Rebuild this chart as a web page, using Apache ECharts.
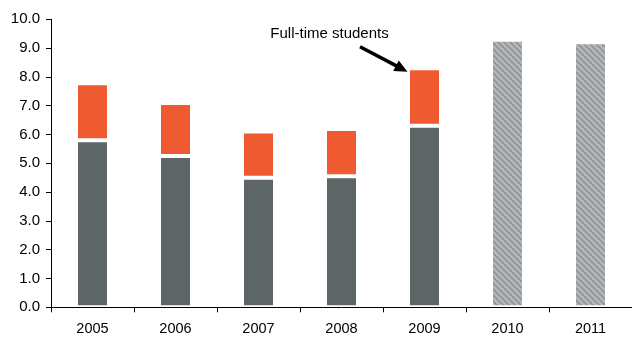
<!DOCTYPE html>
<html>
<head>
<meta charset="utf-8">
<script src="https://cdn.jsdelivr.net/npm/echarts@6/dist/echarts.min.js"></script>
<style>
  html, body { margin: 0; padding: 0; background: #ffffff; }
  #chart { width: 632px; height: 338px; }
</style>
</head>
<body>
<div id="chart"></div>
<script>
// Years on the category axis
const years = ['2005', '2006', '2007', '2008', '2009', '2010', '2011'];
// Employed (excluding full-time students), millions
const employed = [5.8, 5.25, 4.5, 4.55, 6.3, '-', '-'];
// Full-time students, millions
const students = [1.98, 1.84, 1.6, 1.64, 2.0, '-', '-'];
// Projected totals, millions
const projected = ['-', '-', '-', '-', '-', 9.29, 9.2];
// Value axis tick labels run 0.0 .. 10.0
const yTicks = { min: 0, max: 10, step: 1 };

// Diagonal hatch fill for projected bars
function hatchPattern() {
  const c = document.createElement('canvas');
  c.width = 6; c.height = 6;
  const g = c.getContext('2d');
  g.fillStyle = '#b2b6b8';
  g.fillRect(0, 0, 6, 6);
  g.strokeStyle = '#8a8f91';
  g.lineWidth = 1.4;
  g.beginPath();
  g.moveTo(-1, -1); g.lineTo(7, 7);
  g.moveTo(-4, 2); g.lineTo(4, 10);
  g.moveTo(2, -4); g.lineTo(10, 4);
  g.stroke();
  return { image: c, repeat: 'repeat' };
}

const font = 'Liberation Sans, Arial, sans-serif';
const barStyle = (color) => ({ color: color, borderColor: '#ffffff', borderWidth: 2 });

const chart = echarts.init(document.getElementById('chart'), null, { renderer: 'canvas' });
chart.setOption({
  animation: false,
  backgroundColor: '#ffffff',
  grid: { left: 51, width: 586, top: 19.3, bottom: 30.7, containLabel: false },
  xAxis: {
    type: 'category',
    data: years,
    z: 5,
    axisLine: { lineStyle: { color: '#000000', width: 1 } },
    axisTick: { show: true, length: 5, alignWithLabel: false, lineStyle: { color: '#000000' } },
    axisLabel: { color: '#000000', fontFamily: font, fontSize: 14.5, margin: 14 }
  },
  yAxis: {
    type: 'value',
    min: yTicks.min,
    max: yTicks.max,
    interval: yTicks.step,
    splitLine: { show: false },
    axisLine: { show: true, lineStyle: { color: '#000000', width: 1 } },
    axisTick: { show: true, length: 5, lineStyle: { color: '#000000' } },
    axisLabel: {
      color: '#000000', fontFamily: font, fontSize: 15, margin: 11,
      formatter: (v) => v.toFixed(1)
    }
  },
  series: [
    { name: 'Employed', type: 'bar', stack: 'total', barWidth: 33, data: employed, itemStyle: barStyle('#5e6567') },
    { name: 'Full-time students', type: 'bar', stack: 'total', barWidth: 33, data: students, itemStyle: barStyle('#f05a31') },
    { name: 'Projected', type: 'bar', stack: 'total', barWidth: 33, data: projected, itemStyle: barStyle(hatchPattern()) }
  ]
});

// Callout arrow pointing at the 2009 students segment
const idx = years.indexOf('2009');
const top2009 = employed[idx] + students[idx];
const p = chart.convertToPixel({ gridIndex: 0 }, [idx, top2009]);
const tip = [p[0] - 17, p[1] + 3.5];
const tail = [p[0] - 64.5, p[1] - 21.5];
const dx = tip[0] - tail[0], dy = tip[1] - tail[1];
const len = Math.sqrt(dx * dx + dy * dy);
const ux = dx / len, uy = dy / len;
const headLen = 13, headHalf = 6;
const base = [tip[0] - ux * headLen, tip[1] - uy * headLen];
chart.setOption({
  graphic: [
    {
      type: 'line',
      shape: { x1: tail[0], y1: tail[1], x2: base[0] + ux, y2: base[1] + uy },
      style: { stroke: '#000000', lineWidth: 3.5 },
      z: 10
    },
    {
      type: 'polygon',
      shape: { points: [
        tip,
        [base[0] - uy * headHalf, base[1] + ux * headHalf],
        [base[0] + uy * headHalf, base[1] - ux * headHalf]
      ] },
      style: { fill: '#000000' },
      z: 10
    },
    {
      type: 'text',
      x: p[0] - 95,
      y: p[1] - 34,
      style: {
        text: 'Full-time students',
        fill: '#000000',
        font: '15px ' + font,
        align: 'center',
        verticalAlign: 'middle'
      },
      z: 10
    }
  ]
});
</script>
</body>
</html>
